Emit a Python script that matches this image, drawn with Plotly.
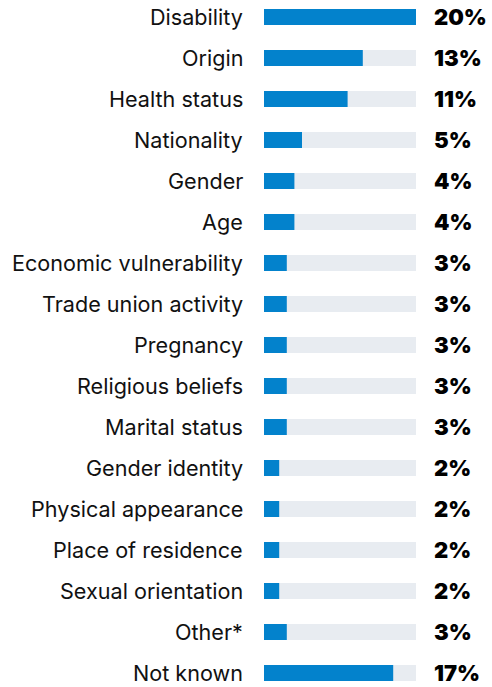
import plotly.graph_objects as go

categories = [
    "Disability", "Origin", "Health status", "Nationality", "Gender", "Age",
    "Economic vulnerability", "Trade union activity", "Pregnancy",
    "Religious beliefs", "Marital status", "Gender identity",
    "Physical appearance", "Place of residence", "Sexual orientation",
    "Other*", "Not known",
]
shares = [20, 13, 11, 5, 4, 4, 3, 3, 3, 3, 3, 2, 2, 2, 2, 3, 17]
track_max = 20

BLUE = "#0382CC"
TRACK = "#E8ECF1"

idx = list(range(len(categories)))

fig = go.Figure()
# light background track spanning the full scale
fig.add_trace(go.Bar(
    y=idx, x=[track_max] * len(idx), orientation="h",
    marker=dict(color=TRACK, line=dict(width=0)), width=0.39,
    hoverinfo="skip",
))
# actual share bars
fig.add_trace(go.Bar(
    y=idx, x=shares, orientation="h",
    marker=dict(color=BLUE, line=dict(width=0)), width=0.39,
    hovertemplate="%{customdata}: %{x}%<extra></extra>",
    customdata=categories,
))

for i, (cat, v) in enumerate(zip(categories, shares)):
    fig.add_annotation(
        x=0, y=i, xref="x", yref="y", text=cat, showarrow=False,
        xanchor="right", xshift=-19,
        font=dict(family="Inter, sans-serif", size=21.6, color="#111111",
                  weight=400),
    )
    fig.add_annotation(
        x=track_max, y=i, xref="x", yref="y", text=f"{v}%",
        showarrow=False, xanchor="left", xshift=16,
        font=dict(family="Inter, sans-serif", size=22, color="#000000",
                  weight=900),
    )

fig.update_layout(
    width=492, height=687,
    margin=dict(l=264, r=76, t=0, b=0),
    paper_bgcolor="white", plot_bgcolor="white",
    barmode="overlay", showlegend=False,
    xaxis=dict(range=[0, track_max], visible=False, fixedrange=True),
    yaxis=dict(range=[16.341, -0.4146], visible=False, fixedrange=True),
)

fig.write_html("out.html")
